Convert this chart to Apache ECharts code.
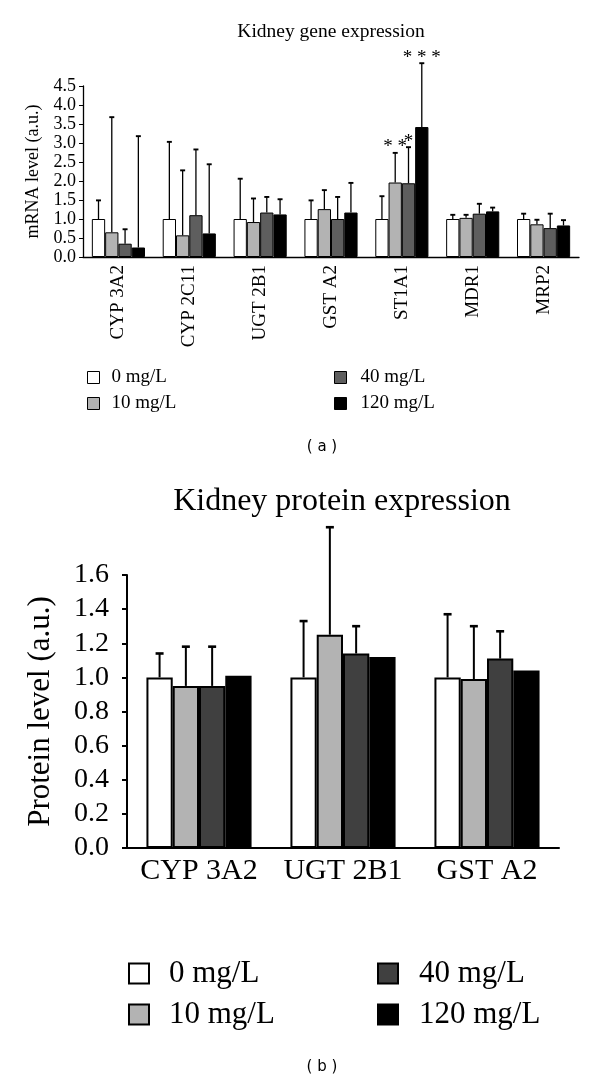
<!DOCTYPE html>
<html>
<head>
<meta charset="utf-8">
<script src="https://cdn.jsdelivr.net/npm/echarts@6/dist/echarts.min.js"></script>
<style>
html,body{margin:0;padding:0;background:#fff;}
#c{width:600px;height:1083px;}
</style>
</head>
<body>
<div id="c"></div>
<script>
// ---------- data ----------
const seriesNames = ['0 mg/L', '10 mg/L', '40 mg/L', '120 mg/L'];

// (a) Kidney gene expression
const geneCategories = ['CYP 3A2', 'CYP 2C11', 'UGT 2B1', 'GST A2', 'ST1A1', 'MDR1', 'MRP2'];
const gene0   = [1.00, 1.00, 1.00, 1.00, 1.00, 1.00, 1.00];
const gene10  = [0.65, 0.57, 0.92, 1.26, 1.96, 1.03, 0.86];
const gene40  = [0.35, 1.10, 1.17, 1.00, 1.94, 1.14, 0.76];
const gene120 = [0.25, 0.62, 1.12, 1.17, 3.42, 1.20, 0.83];
const geneErr0   = [0.49, 2.03, 1.06, 0.49, 0.60, 0.11, 0.14];
const geneErr10  = [3.03, 1.71, 0.62, 0.50, 0.78, 0.08, 0.12];
const geneErr40  = [0.38, 1.73, 0.41, 0.58, 0.95, 0.26, 0.38];
const geneErr120 = [2.93, 1.82, 0.40, 0.78, 1.68, 0.10, 0.14];
const geneStars10  = ['', '', '', '', '* *', '', ''];
const geneStars40  = ['', '', '', '', '*', '', ''];
const geneStars120 = ['', '', '', '', '* * *', '', ''];
const geneTicks = [0, 0.5, 1, 1.5, 2, 2.5, 3, 3.5, 4, 4.5];

// (b) Kidney protein expression
const protCategories = ['CYP 3A2', 'UGT 2B1', 'GST A2'];
const prot0   = [1.00, 1.00, 1.00];
const prot10  = [0.95, 1.25, 0.99];
const prot40  = [0.95, 1.14, 1.11];
const prot120 = [1.01, 1.12, 1.04];
const protErr0   = [0.14, 0.33, 0.37];
const protErr10  = [0.23, 0.63, 0.31];
const protErr40  = [0.23, 0.16, 0.16];
const protErr120 = [null, null, null];
const protTicks = [0, 0.2, 0.4, 0.6, 0.8, 1.0, 1.2, 1.4, 1.6];

// ---------- styling ----------
const SERIF = "'Liberation Serif','Times New Roman',serif";
const colorsA = ['#ffffff', '#b3b3b3', '#5e5e5e', '#000000'];
const colorsB = ['#ffffff', '#b3b3b3', '#404040', '#000000'];

const geneVals = [gene0, gene10, gene40, gene120];
const geneErrs = [geneErr0, geneErr10, geneErr40, geneErr120];
const geneStars = [[], geneStars10, geneStars40, geneStars120];
const protVals = [prot0, prot10, prot40, prot120];
const protErrs = [protErr0, protErr10, protErr40, protErr120];

function errData(vals, errs) {
  const out = [];
  vals.forEach((arr, s) => arr.forEach((v, c) => {
    const e = errs[s][c];
    if (e != null) out.push([c, v + e, s]);
  }));
  return out;
}

function makeRender(vals, errs, stars, gapFrac, capHalf, lw, starFont) {
  return function (params, api) {
    const c = api.value(0), s = api.value(2);
    const v = vals[s][c], e = errs[s][c];
    const band = api.size([1, 0])[0];
    const group = band * (1 - gapFrac);
    const bw = group / 4;
    const base = api.coord([c, v]);
    const top = api.coord([c, v + e]);
    const x = base[0] - group / 2 + (s + 0.5) * bw;
    const children = [
      { type: 'line', shape: { x1: x, y1: base[1], x2: x, y2: top[1] }, style: { stroke: '#000', lineWidth: lw } },
      { type: 'line', shape: { x1: x - capHalf, y1: top[1], x2: x + capHalf, y2: top[1] }, style: { stroke: '#000', lineWidth: lw + 0.6 } }
    ];
    const st = stars && stars[s] && stars[s][c];
    if (st) {
      children.push({ type: 'text', style: { text: st, x: x, y: top[1] + 4, align: 'center', verticalAlign: 'bottom', font: starFont, fill: '#000' } });
    }
    return { type: 'group', children: children };
  };
}

const barSeries = [];
seriesNames.forEach((n, i) => {
  barSeries.push({
    name: n, type: 'bar', xAxisIndex: 0, yAxisIndex: 0, data: geneVals[i],
    barGap: '0%', barCategoryGap: '25%',
    itemStyle: { color: colorsA[i], borderColor: '#000', borderWidth: 1 },
    emphasis: { disabled: true }, animation: false
  });
});
seriesNames.forEach((n, i) => {
  barSeries.push({
    name: n, type: 'bar', xAxisIndex: 1, yAxisIndex: 1, data: protVals[i],
    barGap: '0%', barCategoryGap: '27%',
    itemStyle: { color: colorsB[i], borderColor: '#000', borderWidth: 2 },
    emphasis: { disabled: true }, animation: false
  });
});
barSeries.push({
  name: 'errA', type: 'custom', xAxisIndex: 0, yAxisIndex: 0, clip: false, z: 5,
  data: errData(geneVals, geneErrs), encode: { x: 0, y: 1 },
  renderItem: makeRender(geneVals, geneErrs, geneStars, 0.25, 2.5, 1.3, '19px ' + SERIF),
  animation: false, silent: true
});
barSeries.push({
  name: 'errB', type: 'custom', xAxisIndex: 1, yAxisIndex: 1, clip: false, z: 5,
  data: errData(protVals, protErrs), encode: { x: 0, y: 1 },
  renderItem: makeRender(protVals, protErrs, null, 0.27, 4, 2, '20px ' + SERIF),
  animation: false, silent: true
});

function legend(names, left, top, size, gap, fontSize, colors, idxs, pad) {
  return {
    orient: 'vertical', left: left, top: top, padding: 0, itemWidth: size, itemHeight: size, itemGap: gap,
    icon: 'rect', selectedMode: false,
    textStyle: { fontFamily: SERIF, fontSize: fontSize, color: '#000', padding: [0, 0, 0, pad] },
    data: idxs.map(i => ({ name: names[i], itemStyle: { color: colors[i], borderColor: '#000', borderWidth: size > 15 ? 2 : 1 } }))
  };
}

const option = {
  animation: false,
  backgroundColor: '#fff',
  grid: [
    { left: 83, top: 86, width: 496, height: 171 },
    { left: 127, top: 575, width: 432, height: 273 }
  ],
  xAxis: [
    {
      type: 'category', gridIndex: 0, data: geneCategories,
      axisLine: { lineStyle: { color: '#000', width: 1.3 } }, axisTick: { show: false },
      axisLabel: { interval: 0, rotate: 90, margin: 8, fontFamily: SERIF, fontSize: 19, color: '#000' }
    },
    {
      type: 'category', gridIndex: 1, data: protCategories,
      axisLine: { lineStyle: { color: '#000', width: 2 } }, axisTick: { show: false },
      axisLabel: { interval: 0, hideOverlap: false, margin: 8, fontFamily: SERIF, fontSize: 30, color: '#000' }
    }
  ],
  yAxis: [
    {
      type: 'value', gridIndex: 0, min: geneTicks[0], max: geneTicks[geneTicks.length - 1], interval: 0.5,
      name: 'mRNA level (a.u.)', nameLocation: 'middle', nameGap: 40,
      nameTextStyle: { fontFamily: SERIF, fontSize: 18, color: '#000' },
      axisLine: { show: true, lineStyle: { color: '#000', width: 1.3 } },
      axisTick: { show: true, length: 4, lineStyle: { color: '#000' } },
      splitLine: { show: false },
      axisLabel: { margin: 7, fontFamily: SERIF, fontSize: 18, color: '#000', formatter: v => v.toFixed(1) }
    },
    {
      type: 'value', gridIndex: 1, min: protTicks[0], max: protTicks[protTicks.length - 1], interval: 0.2,
      name: 'Protein level (a.u.)', nameLocation: 'middle', nameGap: 71,
      nameTextStyle: { fontFamily: SERIF, fontSize: 31, color: '#000' },
      axisLine: { show: true, lineStyle: { color: '#000', width: 2 } },
      axisTick: { show: true, length: 5, lineStyle: { color: '#000', width: 2 } },
      splitLine: { show: false },
      axisLabel: { margin: 18, fontFamily: SERIF, fontSize: 28, color: '#000', formatter: v => v.toFixed(1) }
    }
  ],
  legend: [
    legend(seriesNames, 87, 368, 12, 7, 19, colorsA, [0, 1], 7),
    legend(seriesNames, 334, 368, 12, 7, 19, colorsA, [2, 3], 9),
    legend(seriesNames, 128, 958, 20, 10, 31, colorsB, [0, 1], 15),
    legend(seriesNames, 377, 958, 20, 10, 31, colorsB, [2, 3], 16)
  ],
  graphic: [
    { type: 'text', x: 331, y: 32, style: { text: 'Kidney gene expression', font: '19.5px ' + SERIF, fill: '#000', align: 'center', verticalAlign: 'middle' } },
    { type: 'text', x: 342, y: 502, style: { text: 'Kidney protein expression', font: '32px ' + SERIF, fill: '#000', align: 'center', verticalAlign: 'middle' } },
    { type: 'text', x: 322, y: 447, style: { text: '( a )', font: '15px "DejaVu Sans", sans-serif', fill: '#000', align: 'center', verticalAlign: 'middle' } },
    { type: 'text', x: 322, y: 1067, style: { text: '( b )', font: '15px "DejaVu Sans", sans-serif', fill: '#000', align: 'center', verticalAlign: 'middle' } }
  ],
  series: barSeries
};

const chart = echarts.init(document.getElementById('c'), null, { renderer: 'canvas' });
chart.setOption(option);
</script>
</body>
</html>
